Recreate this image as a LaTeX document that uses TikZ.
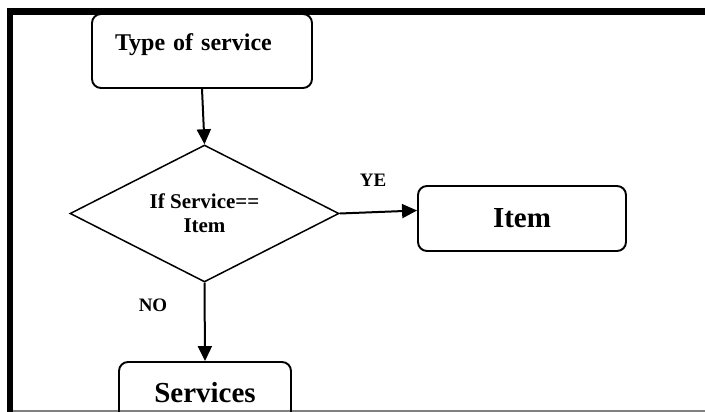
\documentclass[tikz,border=0pt]{standalone}
\usepackage{fontspec}
\setmainfont{Liberation Serif}
\usetikzlibrary{shapes.geometric,arrows.meta}
\tikzset{
  flowbox/.style={draw,line width=1.9pt,rounded corners=9pt,font=\bfseries},
  decision/.style={draw,diamond,aspect=2,line width=1.5pt,inner sep=0pt,align=center,
    font=\bfseries\fontsize{21}{24}\selectfont},
  flowarrow/.style={line width=2pt,-{Triangle[length=15pt,width=14pt]}},
  answer/.style={font=\bfseries\fontsize{19}{21}\selectfont}
}
\begin{document}
\begin{tikzpicture}[x=1pt,y=-1pt]
\useasboundingbox (0,0) rectangle (705,412);
\clip (0,0) rectangle (705,412);
% frame
\draw [line width=6.5pt,line join=miter] (10,430) -- (10,11.5) -- (720,11.5);
\draw [line width=1.2pt,color=gray] (13,411) -- (720,411);
% boxes
\node[flowbox,minimum width=220pt,minimum height=74pt,text width=174pt,align=left,
  text height=16pt,text depth=16pt,font=\bfseries\fontsize{24}{26}\selectfont] (type) at (202,51) {Type of service};
\node[decision,minimum width=269pt,minimum height=137pt] (check) at (204.5,213.5) {If Service==\\Item};
\node[flowbox,minimum width=208pt,minimum height=65pt,font=\bfseries\fontsize{29}{31}\selectfont] (item) at (522,218.5) {Item};
\node[flowbox,minimum width=172pt,minimum height=62pt,font=\bfseries\fontsize{29}{31}\selectfont] (services) at (205,393) {Services};
% arrows
\draw [flowarrow] (type.south) -- (check.north);
\draw [flowarrow] (check.east) -- ([yshift=8pt]item.west);
\draw [flowarrow] (check.south) -- (services.north);
% labels
\node[answer] (yes) at (373,180) {YE};
\node[answer] (no) at (153,305) {NO};
\end{tikzpicture}
\end{document}
